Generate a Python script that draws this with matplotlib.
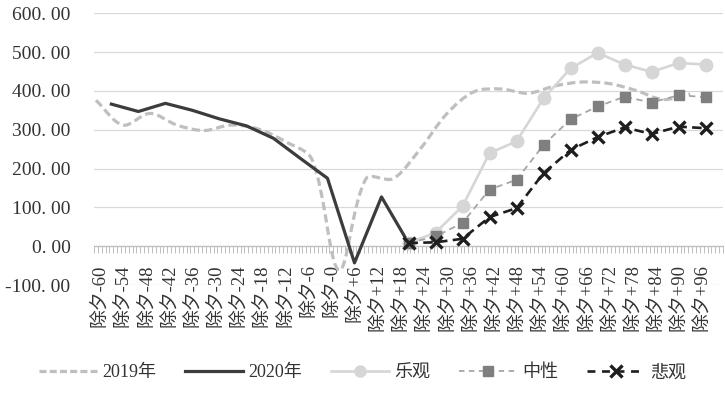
import matplotlib
matplotlib.use('Agg')
import numpy as np
import matplotlib.pyplot as plt
from matplotlib.lines import Line2D
from matplotlib.patches import PathPatch
from matplotlib.path import Path

# x = days relative to 除夕 (New Year's Eve), weekly readings
days_2019 = [-61, -54, -47, -40, -33, -26, -19, -12, -5, 2, 9, 16,
             23, 30, 37, 44, 51, 58, 65, 72, 79, 86, 93]
vals_2019 = [376, 312, 342, 312, 298, 312, 302, 270, 223, -62, 174, 174,
             250, 342, 398, 405, 394, 413, 423, 419, 401, 378, 392]

days_2020 = [-57, -50, -43, -36, -29, -22, -15, -8, -1, 6, 13, 20]
vals_2020 = [366, 347, 368, 350, 328, 310, 278, 226, 175, -43, 127, 8]

days_scen = [20, 27, 34, 41, 48, 55, 62, 69, 76, 83, 90, 97]
optimistic = [8, 35, 103, 240, 270, 381, 458, 498, 468, 449, 472, 468]
neutral = [8, 25, 60, 146, 171, 261, 327, 360, 385, 370, 389, 384]
pessimistic = [8, 10, 19, 75, 98, 188, 248, 281, 306, 289, 308, 304]

label_days = list(range(-60, 97, 6))
y_ticks = [-100, 0, 100, 200, 300, 400, 500, 600]

NUM_FONT = ['Liberation Serif', 'Noto Sans CJK SC']
plt.rcParams['font.family'] = NUM_FONT

C2019 = '#bfbfbf'
C2020 = '#3c3c3c'
COPT = '#d6d6d6'
CNEU_LINE = '#a6a6a6'
CNEU_MK = '#7f7f7f'
CPES = '#1e1e1e'


def day_label(d):
	if d == 0:
		return '除夕-0'
	return f'除夕{d:+d}'


def smooth_patch(ax, xs, ys, **kw):
	# Excel-like smoothed line: cubic bezier between points, computed on screen
	P = ax.transData.transform(np.column_stack([xs, ys]))
	n = len(P)
	verts = [P[0]]
	codes = [Path.MOVETO]
	for i in range(n - 1):
		p0 = P[i - 1] if i > 0 else P[i]
		p1, p2 = P[i], P[i + 1]
		p3 = P[i + 2] if i + 2 < n else P[i + 1]
		d0 = np.hypot(*(p1 - p0))
		d1 = np.hypot(*(p2 - p1))
		d2 = np.hypot(*(p3 - p2))
		c1 = p1 + (p2 - p0) * (d1 / (d0 + d1)) / 3
		c2 = p2 - (p3 - p1) * (d1 / (d1 + d2)) / 3
		verts += [c1, c2, p2]
		codes += [Path.CURVE4] * 3
	verts = ax.transData.inverted().transform(np.array(verts))
	patch = PathPatch(Path(verts, codes), fill=False, **kw)
	ax.add_patch(patch)
	return patch


fig = plt.figure(figsize=(7.25, 3.94), dpi=100)
ax = fig.add_axes([94 / 725, 1 - 285 / 394, (723 - 94) / 725, (285 - 13.3) / 394])
ax.set_xlim(-61.5, 101.5)
ax.set_ylim(-100, 600)

# grid
ax.set_yticks(y_ticks)
ax.set_yticklabels([f'{v:.2f}'.replace('.', '. ') for v in y_ticks], fontsize=14)
ax.yaxis.grid(True, color='#d9d9d9', lw=0.9)
ax.set_axisbelow(True)
ax.tick_params(axis='y', length=0, pad=17, labelcolor='#333333')

for s in ['left', 'right', 'top']:
	ax.spines[s].set_visible(False)
ax.spines['bottom'].set_position(('data', 0))
ax.spines['bottom'].set_color('#bfbfbf')
ax.spines['bottom'].set_linewidth(0.9)

ax.set_xticks(label_days)
ax.set_xticklabels([day_label(d) for d in label_days], rotation=90, fontsize=13.5)
ax.set_xticks(np.arange(-61.5, 102, 1), minor=True)
ax.tick_params(axis='x', which='major', length=0, pad=13, labelcolor='#333333')
ax.tick_params(axis='x', which='minor', length=5, width=0.7, color='#bfbfbf', direction='out')

# series
smooth_patch(ax, days_2019, vals_2019, edgecolor=C2019, lw=2.3,
	linestyle=(0, (2.6, 1.3)), zorder=2)
ax.plot(days_2020, vals_2020, color=C2020, lw=2.3, zorder=3)
ax.plot(days_scen, optimistic, color=COPT, lw=1.9, marker='o', ms=9,
	mfc=COPT, mec=COPT, zorder=4)
ax.plot(days_scen, neutral, color=CNEU_LINE, lw=1.3, linestyle=(0, (3.5, 2.5)),
	marker='s', ms=7, mfc=CNEU_MK, mec=CNEU_MK, zorder=5)
ax.plot(days_scen, pessimistic, color=CPES, lw=1.9, linestyle=(0, (3.6, 2)),
	marker='x', ms=9, mew=2.4, mec=CPES, zorder=6)

handles = [
	Line2D([], [], color=C2019, lw=2.3, linestyle=(0, (2.2, 1.0))),
	Line2D([], [], color=C2020, lw=2.3),
	Line2D([], [], color=COPT, lw=1.9, marker='o', ms=8, mfc=COPT, mec=COPT),
	Line2D([], [], color=CNEU_LINE, lw=1.3, linestyle=(0, (3, 2.5)), marker='s', ms=7,
		mfc=CNEU_MK, mec=CNEU_MK),
	Line2D([], [], color=CPES, lw=1.9, linestyle=(0, (3, 2.5)), marker='x', ms=8,
		mew=2.4, mec=CPES),
]
labels = ['2019年', '2020年', '乐观', '中性', '悲观']
fig.legend(handles, labels, loc='center', bbox_to_anchor=(0.5, 1 - 373 / 394), ncol=5,
	frameon=False, fontsize=13, handlelength=3.2, handletextpad=0.3,
	columnspacing=1.6, labelcolor='#333333')

fig.savefig('out.png', dpi=100)
